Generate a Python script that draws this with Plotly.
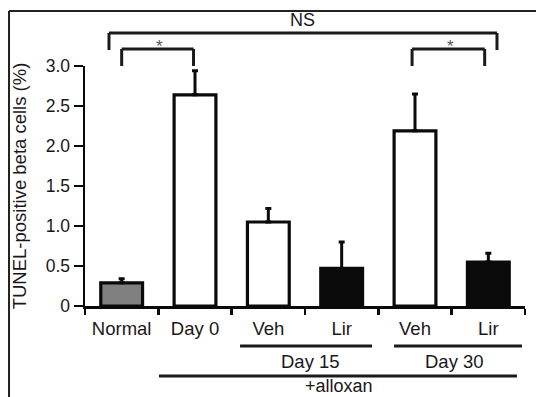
import plotly.graph_objects as go

# ---- data ----
categories = ["Normal", "Day 0", "Veh", "Lir", "Veh", "Lir"]
values = [0.29, 2.64, 1.05, 0.47, 2.19, 0.55]
errors = [0.05, 0.30, 0.17, 0.33, 0.46, 0.11]
bar_colors = ["#808080", "#ffffff", "#ffffff", "#0a0a0a", "#ffffff", "#0a0a0a"]
y_ticks = [0, 0.5, 1.0, 1.5, 2.0, 2.5, 3.0]
y_ticklabels = ["0", "0.5", "1.0", "1.5", "2.0", "2.5", "3.0"]
y_title = "TUNEL-positive beta cells (%)"
groups = ["Day 15", "Day 30"]
treatment = "+alloxan"

xs = list(range(len(categories)))
TXT = "#1a1718"
FONT = "Liberation Sans, Arial, sans-serif"

fig = go.Figure()
fig.add_trace(go.Bar(
    x=xs, y=values, width=0.57,
    marker=dict(color=bar_colors, line=dict(color="#0a0a0a", width=3.2)),
    error_y=dict(type="data", array=errors, arrayminus=[0] * len(errors),
                 symmetric=False, color="#0a0a0a", thickness=3, width=3),
    showlegend=False, hoverinfo="skip",
))

shapes = []
def seg(x0, y0, x1, y1, xref="x", yref="paper", w=3, color="#1a1a1a"):
    shapes.append(dict(type="line", x0=x0, y0=y0, x1=x1, y1=y1, xref=xref, yref=yref,
                       line=dict(color=color, width=w)))

# significance brackets
seg(-0.173, 1.1375, 5.118, 1.1375)
seg(-0.173, 1.1375, -0.173, 1.0667)
seg(5.118, 1.1375, 5.118, 1.0667)
seg(0.0, 1.0708, 0.98, 1.0708)
seg(0.0, 1.0708, 0.0, 1.0)
seg(0.98, 1.0708, 0.98, 1.0)
seg(3.96, 1.0708, 4.95, 1.0708)
seg(3.96, 1.0708, 3.96, 1.0)
seg(4.95, 1.0708, 4.95, 1.0)
# group lines
seg(1.614, -0.1667, 3.414, -0.1667)
seg(3.714, -0.1667, 5.459, -0.1667)
seg(0.509, -0.2917, 5.39, -0.2917)
# frame (left and top)
seg(-0.1727, -0.40, -0.1727, 1.229, xref="paper", w=2, color="#222222")
seg(-0.1727, 1.229, 1.03, 1.229, xref="paper", w=2, color="#222222")

annotations = [
    dict(x=2.47, y=1.1917, text="NS", font=dict(size=18, color=TXT)),
    dict(x=0.52, y=1.08, text="*", font=dict(size=17, color="#555555")),
    dict(x=4.49, y=1.08, text="*", font=dict(size=17, color="#555555")),
    dict(x=2.57, y=-0.2333, text=groups[0], font=dict(size=18.5, color=TXT)),
    dict(x=4.545, y=-0.2333, text=groups[1], font=dict(size=18.5, color=TXT)),
    dict(x=2.96, y=-0.335, text=treatment, font=dict(size=18, color=TXT)),
]
for a in annotations:
    a.update(xref="x", yref="paper", showarrow=False, xanchor="center", yanchor="middle")

fig.update_layout(
    width=536, height=397,
    margin=dict(l=85, r=11, t=66, b=91),
    paper_bgcolor="white", plot_bgcolor="white",
    font=dict(family=FONT, color=TXT),
    shapes=shapes, annotations=annotations,
    bargap=0, hovermode=False,
    xaxis=dict(
        range=[-0.5, 5.5], tickmode="array", tickvals=xs, ticktext=categories,
        ticks="", showgrid=False, zeroline=False, automargin=False,
        showline=True, linecolor="#0a0a0a", linewidth=2.5,
        tickfont=dict(size=18.5, color=TXT), ticklabelstandoff=4,
        minor=dict(tickmode="array", tickvals=[-0.5, 0.5, 1.5, 2.5, 3.5, 4.5, 5.5],
                   ticks="outside", ticklen=6, tickwidth=2.5, tickcolor="#0a0a0a",
                   showgrid=False),
        fixedrange=True,
    ),
    yaxis=dict(
        range=[0, 3.0], tickmode="array", tickvals=y_ticks, ticktext=y_ticklabels,
        ticks="outside", ticklen=9, tickwidth=2.5, tickcolor="#0a0a0a",
        showline=True, linecolor="#0a0a0a", linewidth=2.5,
        showgrid=False, zeroline=False, automargin=False,
        tickfont=dict(size=17.5, color=TXT),
        title=dict(text=y_title, font=dict(size=18.5, color=TXT), standoff=14),
        fixedrange=True,
    ),
)

fig.write_html("out.html", config={"displayModeBar": False, "staticPlot": True},
               post_script="document.body.style.margin='0';")
